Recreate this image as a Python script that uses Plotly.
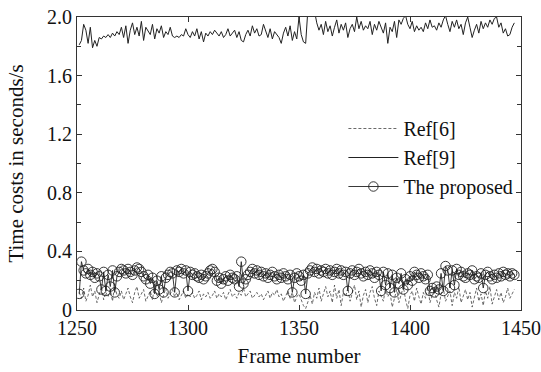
import plotly.graph_objects as go

start_frame = 1251

ref9 = [
    1.81, 1.84, 1.95, 1.91, 1.82, 1.93, 1.79, 1.84, 1.80, 1.86,
    1.85, 1.87, 1.86, 1.88, 1.86, 1.89, 1.87, 1.90, 1.88, 1.93,
    1.86, 1.94, 1.82, 1.91, 1.96, 1.88, 1.93, 1.87, 1.97, 1.84,
    1.93, 1.90, 1.88, 1.95, 1.85, 1.92, 1.89, 1.94, 1.86, 1.90,
    1.88, 1.93, 1.87, 1.86, 1.87, 1.86, 1.88, 1.87, 1.92, 1.88,
    1.86, 1.90, 1.87, 1.92, 1.85, 1.90, 1.83, 1.89, 1.87, 1.90,
    1.88, 1.91, 1.89, 1.87, 1.90, 1.86, 1.88, 1.92, 1.87, 1.89,
    1.91, 1.86, 1.90, 1.84, 1.83, 1.88, 1.91, 1.87, 1.94, 1.89,
    1.92, 1.87, 1.88, 1.95, 1.90, 1.86, 1.92, 1.85, 1.90, 1.88,
    1.86, 1.82, 1.89, 1.93, 1.87, 1.94, 1.84, 1.90, 1.85, 2.00,
    1.88, 1.83, 1.82, 2.05, 2.08, 2.06, 2.04, 1.96, 1.91, 1.95,
    1.88, 1.97, 1.90, 1.94, 1.87, 1.93, 1.98, 1.89, 1.95, 1.91,
    1.96, 1.86, 1.92, 1.95, 1.90, 2.00, 1.92, 1.97, 1.91, 1.94,
    1.92, 1.97, 1.88, 1.95, 1.91, 1.97, 1.93, 1.89, 1.96, 1.82,
    1.93, 1.90, 1.97, 1.86, 1.98, 1.95, 1.99, 2.01, 1.95, 1.92,
    1.97, 1.90, 1.94, 1.91, 1.93, 1.90, 1.96, 1.92, 1.98, 1.93,
    1.94, 1.91, 1.96, 1.93, 1.98, 2.01, 1.95, 1.90, 1.97, 1.93,
    1.98, 1.92, 1.95, 1.88, 1.96, 2.00, 1.93, 1.86, 1.91, 1.95,
    1.89, 1.97, 1.92, 1.96, 1.93, 1.98, 1.95, 1.99, 2.00, 1.93,
    1.96, 1.89, 1.92, 1.87, 1.88, 1.93, 1.96,
]

ref6 = [
    0.12, 0.08, 0.15, 0.06, 0.10, 0.17, 0.09, 0.13, 0.05, 0.11,
    0.16, 0.07, 0.12, 0.09, 0.14, 0.06, 0.18, 0.10, 0.08, 0.13,
    0.07, 0.11, 0.15, 0.09, 0.05, 0.12, 0.16, 0.08, 0.11, 0.14,
    0.06, 0.10, 0.13, 0.07, 0.17, 0.09, 0.12, 0.05, 0.10, 0.15,
    0.08, 0.11, 0.14, 0.09, 0.12, 0.07, 0.10, 0.13, 0.08, 0.11,
    0.09, 0.12, 0.08, 0.10, 0.13, 0.07, 0.11, 0.09, 0.12, 0.08,
    0.10, 0.13, 0.08, 0.11, 0.09, 0.12, 0.07, 0.10, 0.14, 0.09,
    0.11, 0.08, 0.12, 0.10, 0.15, 0.09, 0.11, 0.13, 0.08, 0.10,
    0.12, 0.09, 0.11, 0.07, 0.10, 0.13, 0.08, 0.12, 0.10, 0.14,
    0.09, 0.11, 0.06, 0.10, 0.13, 0.08, 0.12, 0.05, 0.09, 0.11,
    0.07, 0.03, 0.01, 0.06, 0.10, 0.04, 0.12, 0.08, 0.15, 0.06,
    0.11, 0.16, 0.09, 0.13, 0.05, 0.17, 0.08, 0.14, 0.03, 0.12,
    0.09, 0.15, 0.06, 0.11, 0.17, 0.07, 0.13, 0.02, 0.10, 0.14,
    0.05, 0.12, 0.16, 0.08, 0.03, 0.13, 0.10, 0.06, 0.15, 0.09,
    0.12, 0.02, 0.08, 0.14, 0.05, 0.11, 0.16, 0.07, 0.01, 0.10,
    0.13, 0.06, 0.15, 0.09, 0.04, 0.12, 0.08, 0.16, 0.05, 0.10,
    0.14, 0.07, 0.02, 0.11, 0.15, 0.06, 0.09, 0.13, 0.03, 0.12,
    0.08, 0.16, 0.05, 0.10, 0.14, 0.07, 0.12, 0.02, 0.09, 0.15,
    0.06, 0.11, 0.03, 0.13, 0.08, 0.16, 0.04, 0.10, 0.14, 0.07,
    0.12, 0.05, 0.09, 0.15, 0.08, 0.11, 0.14,
]

proposed = [
    0.11, 0.33, 0.27, 0.25, 0.28, 0.24, 0.26, 0.22, 0.25, 0.23,
    0.14, 0.26, 0.13, 0.24, 0.16, 0.27, 0.12, 0.23, 0.26, 0.28,
    0.27, 0.25, 0.28, 0.26, 0.24, 0.27, 0.29, 0.28, 0.26, 0.23,
    0.21, 0.24, 0.18, 0.22, 0.11, 0.20, 0.14, 0.23, 0.12, 0.22,
    0.24, 0.26, 0.25, 0.12, 0.27, 0.26, 0.28, 0.25, 0.27, 0.13,
    0.26, 0.24, 0.25, 0.23, 0.22, 0.24, 0.21, 0.23, 0.25, 0.27,
    0.28, 0.26, 0.20, 0.22, 0.18, 0.21, 0.23, 0.20, 0.24, 0.22,
    0.21, 0.23, 0.16, 0.33, 0.18, 0.21, 0.24, 0.26, 0.28, 0.25,
    0.27, 0.24, 0.26, 0.23, 0.25, 0.22, 0.24, 0.26, 0.23, 0.21,
    0.24, 0.22, 0.25, 0.23, 0.21, 0.24, 0.12, 0.22, 0.25, 0.23,
    0.20, 0.24, 0.11, 0.25, 0.27, 0.29, 0.26, 0.28, 0.25, 0.27,
    0.26, 0.28, 0.25, 0.27, 0.24, 0.26, 0.28, 0.25, 0.27, 0.24,
    0.26, 0.13, 0.25, 0.27, 0.24, 0.26, 0.28, 0.25, 0.23, 0.26,
    0.24, 0.27, 0.25, 0.22, 0.26, 0.24, 0.13, 0.26, 0.17, 0.25,
    0.15, 0.24, 0.12, 0.22, 0.18, 0.25, 0.14, 0.21, 0.17, 0.23,
    0.20, 0.26, 0.24, 0.22, 0.25, 0.23, 0.21, 0.24, 0.13, 0.15,
    0.12, 0.16, 0.14, 0.25, 0.13, 0.30, 0.27, 0.15, 0.27, 0.17,
    0.28, 0.24, 0.26, 0.23, 0.22, 0.25, 0.24, 0.27, 0.21, 0.23,
    0.22, 0.25, 0.15, 0.24, 0.26, 0.23, 0.21, 0.24, 0.22, 0.25,
    0.23, 0.26, 0.24, 0.25, 0.23, 0.25, 0.24,
]

frames = [start_frame + i for i in range(len(proposed))]

x_ticks = [1250, 1300, 1350, 1400, 1450]
y_ticks = [0, 0.4, 0.8, 1.2, 1.6, 2.0]
y_tick_labels = ["0", "0.4", "0.8", "1.2", "1.6", "2.0"]

font_family = "Liberation Serif"

fig = go.Figure()
fig.add_trace(go.Scatter(
    x=frames, y=ref6, mode="lines", name="Ref[6]", legendgroup="a",
    line=dict(color="#444444", width=0.8, dash="3px,2px"),
))
fig.add_trace(go.Scatter(
    x=frames, y=ref9, mode="lines", name="Ref[9]", legendgroup="b",
    line=dict(color="#222222", width=1),
))
fig.add_trace(go.Scatter(
    x=frames, y=proposed, mode="lines+markers", name="The proposed", legendgroup="c",
    line=dict(color="#222222", width=0.9),
    marker=dict(symbol="circle-open", size=9.5, color="#222222", line=dict(width=0.9)),
))

axis_common = dict(
    showline=True, linecolor="#333333", linewidth=1, mirror="ticks",
    ticks="inside", ticklen=5, tickcolor="#333333", showgrid=False, zeroline=False,
    tickfont=dict(family=font_family, size=20, color="#111111"),
    automargin=False, ticklabeloverflow="allow",
)

fig.update_xaxes(
    range=[1250, 1450], tickvals=x_ticks,
    title=dict(text="Frame number", font=dict(family=font_family, size=21, color="#111111"), standoff=10),
    **axis_common,
)
fig.update_yaxes(
    range=[0, 2.0], tickvals=y_ticks, ticktext=y_tick_labels,
    minor=dict(dtick=0.2, ticks="inside", ticklen=4, tickcolor="#333333"),
    title=dict(text="Time costs in seconds/s", font=dict(family=font_family, size=21, color="#111111"), standoff=17),
    **axis_common,
)

fig.update_layout(
    width=541, height=372,
    margin=dict(l=77, r=20, t=17, b=62),
    paper_bgcolor="white", plot_bgcolor="white",
    showlegend=True,
    legend=dict(
        x=0.60, y=0.686, xanchor="left", yanchor="top",
        bgcolor="rgba(0,0,0,0)", borderwidth=0,
        font=dict(family=font_family, size=20, color="#111111"),
        tracegroupgap=0, itemwidth=50,
    ),
)

# remove the default page margin so the figure fills the 541x372 window exactly
fig.write_html(
    "out.html",
    config={"displayModeBar": False},
    post_script="document.body.style.margin='0';",
)
